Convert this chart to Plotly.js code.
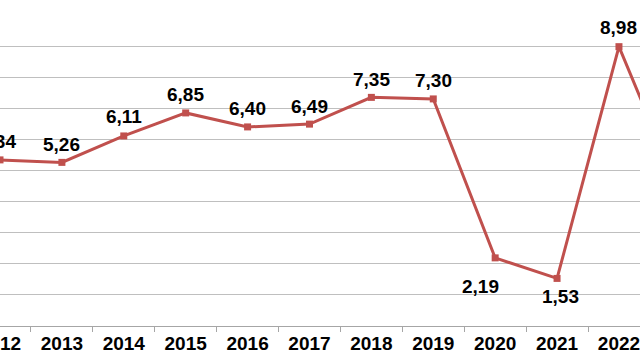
<!DOCTYPE html>
<html>
<head>
<meta charset="utf-8">
<script src="https://cdn.plot.ly/plotly-3.0.1.min.js"></script>
<style>html,body{margin:0;padding:0;background:#fff}#chart{width:640px;height:360px}</style>
</head>
<body>
<div id="chart"></div>
<script>
var years = ["2012","2013","2014","2015","2016","2017","2018","2019","2020","2021","2022","2023"];
var values = [5.34, 5.26, 6.11, 6.85, 6.40, 6.49, 7.35, 7.30, 2.19, 1.53, 8.98, 4.20];
var labels = ["5,34","5,26","6,11","6,85","6,40","6,49","7,35","7,30","2,19","1,53","8,98","4,20"];
var labelShiftX = [-3,0,0,0,0,0,0,0,-15,3,0,0];
var labelShiftY = [18,18,19,18,18,18,18,18,-29,-18,19,18];

var trace = {
  x: years, y: values, type: "scatter", mode: "lines+markers",
  line: {color: "#C0504D", width: 3},
  marker: {symbol: "square", size: 7, color: "#C0504D"},
  hoverinfo: "skip", cliponaxis: false
};

var annotations = years.map(function(yr, i){
  return {x: i, y: values[i], xref: "x", yref: "y", text: labels[i], showarrow: false,
    xanchor: "center", yanchor: "middle", xshift: labelShiftX[i], yshift: labelShiftY[i],
    font: {family: "Liberation Sans, Arial, sans-serif", size: 19, color: "#000", weight: "bold"}};
});

var layout = {
  width: 640, height: 360,
  margin: {l: 0, r: 0, t: 14, b: 34, pad: 0},
  paper_bgcolor: "#fff", plot_bgcolor: "#fff",
  showlegend: false,
  xaxis: {type: "category", range: [0, 10.34], tickson: "boundaries",
    ticks: "outside", ticklen: 5, tickcolor: "#A6A6A6", showgrid: false,
    showline: true, linecolor: "#A6A6A6", linewidth: 1, zeroline: false,
    tickfont: {family: "Liberation Sans, Arial, sans-serif", size: 19, color: "#000", weight: "bold"}},
  yaxis: {range: [0, 10.03], dtick: 1, showgrid: true, gridcolor: "#BFBFBF", gridwidth: 1,
    showticklabels: false, zeroline: false, showline: false, ticks: ""},
  annotations: annotations
};

Plotly.newPlot("chart", [trace], layout, {displayModeBar: false, staticPlot: true});
</script>
</body>
</html>
